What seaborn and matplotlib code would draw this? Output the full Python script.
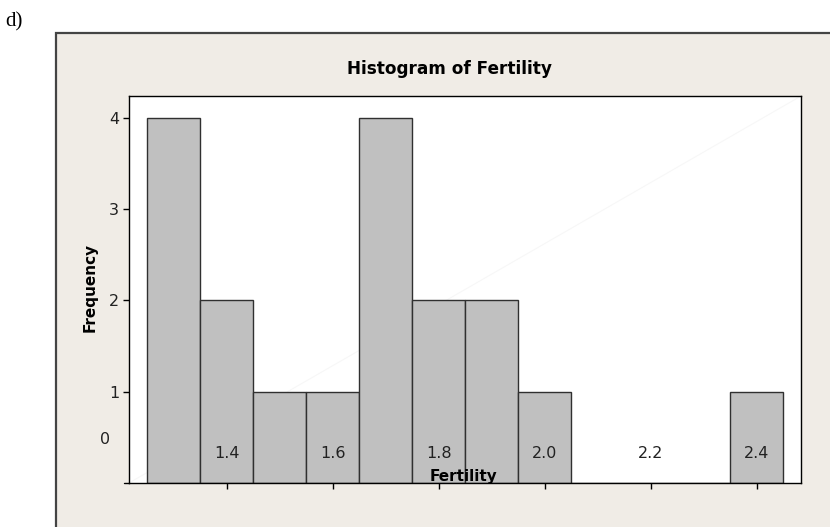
import matplotlib
matplotlib.use("Agg")
import matplotlib.pyplot as plt
import matplotlib.transforms as mtransforms
from matplotlib.patches import Rectangle
import seaborn as sns
import pandas as pd

# ---- data ----
bin_centers = [1.3, 1.4, 1.5, 1.6, 1.7, 1.8, 1.9, 2.0, 2.1, 2.2, 2.3, 2.4]
counts      = [4,   2,   1,   1,   4,   2,   2,   1,   0,   0,   0,   1]
x_ticks = [1.4, 1.6, 1.8, 2.0, 2.2, 2.4]
x_tick_labels = ["1.4", "1.6", "1.8", "2.0", "2.2", "2.4"]
y_ticks = [1, 2, 3, 4]
y_tick_labels = ["1", "2", "3", "4"]
title = "Histogram of Fertility"
xlabel = "Fertility"
ylabel = "Frequency"

df = pd.DataFrame({"Fertility": bin_centers, "n": counts})

sns.set_style("white")
plt.rcParams["font.family"] = ["DejaVu Sans"]
plt.rcParams["text.color"] = "black"

W, H = 830, 527
fig = plt.figure(figsize=(W / 100, H / 100), dpi=100)
fig.patch.set_facecolor("white")

# beige panel
panel = Rectangle((56 / W, -0.05), 1.0, 1 - 33 / H + 0.05, transform=fig.transFigure,
                  facecolor="#F0ECE6", edgecolor="#444444", lw=1.6, zorder=-5)
fig.patches.append(panel)
fig.text(5 / W, 1 - 22 / H, "d)", fontsize=15, family=["Liberation Serif"],
         va="center", ha="left", color="black")

ax = fig.add_axes([129 / W, (H - 483) / H, (801 - 129) / W, (483 - 96) / H])
ax.set_zorder(2)
ax.set_facecolor("white")

sns.histplot(data=df, x="Fertility", weights="n", binwidth=0.1, binrange=(1.25, 2.45),
             color="#C0C0C0", edgecolor="#303030", linewidth=1.0, alpha=1, ax=ax, zorder=2)

# faint diagonal artifact
ax.plot([0, 1], [0, 1], transform=ax.transAxes, color="#F7F7F7", lw=0.8, zorder=1)

ax.set_xlim(1.216, 2.483)
ax.set_ylim(0, 4.24)

for s in ax.spines.values():
    s.set_visible(True)
    s.set_color("black")
    s.set_linewidth(1.0)

ax.set_yticks(y_ticks)
ax.set_yticklabels(y_tick_labels, fontsize=11.5, color="#222222")
ax.set_xticks(x_ticks)
ax.set_xticklabels([])
ax.tick_params(axis="y", direction="out", length=4, width=1, color="black", pad=3, left=True)
ax.tick_params(axis="x", direction="out", length=4, width=1, color="black", bottom=True)

ax.set_xlabel("")
ax.set_ylabel("")

# x tick labels drawn inside plot area (as in reference)
for xv, lab in zip(x_ticks, x_tick_labels):
    ax.text(xv, 0.32, lab, ha="center", va="center", fontsize=11.5, color="#222222", zorder=5)
# misplaced "0" label
trans = mtransforms.blended_transform_factory(ax.transAxes, ax.transData)
ax.text(-0.028, 0.48, "0", transform=trans, ha="right", va="center", fontsize=11.5,
        color="#222222", clip_on=False)

# axis labels and title
ax.text((463 - 129) / (801 - 129), 0.07, xlabel, transform=trans, ha="center", va="center",
        fontsize=11, fontweight="bold", zorder=5, color="black")
fig.text(90 / W, 1 - 287 / H, ylabel, rotation=90, ha="center", va="center",
         fontsize=11, fontweight="bold", color="black")
fig.text(449 / W, 1 - 69 / H, title, ha="center", va="center", fontsize=12.2,
         fontweight="bold", color="black")

# bottom axis line extends slightly left of frame
fig.add_artist(plt.Line2D([124 / W, 129 / W], [(H - 483) / H] * 2, transform=fig.transFigure,
                          color="black", lw=1.0))

fig.savefig("out.png", dpi=100, facecolor="white")
